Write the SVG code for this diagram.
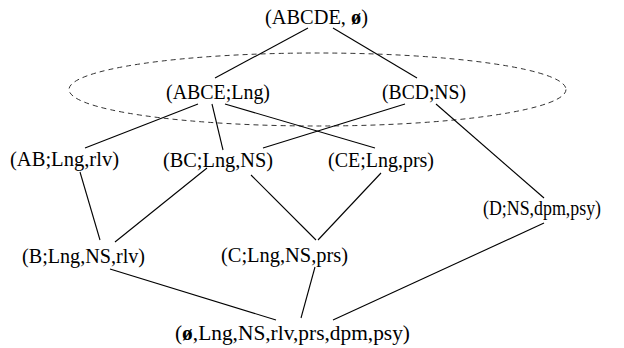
<svg xmlns="http://www.w3.org/2000/svg" width="624" height="348" viewBox="0 0 624 348">
<style>
.c line{stroke:#000;stroke-width:1.1}
</style>
<rect width="624" height="348" fill="#fff"/>
<ellipse cx="317.5" cy="89.5" rx="248.5" ry="36.5" fill="none" stroke="#333" stroke-width="1" stroke-dasharray="5,4"/>
<g class="c" id="connectors">
<line x1="308" y1="28" x2="215" y2="78"/>
<line x1="333" y1="28" x2="417" y2="78"/>
<line x1="198" y1="104" x2="85" y2="148"/>
<line x1="212" y1="104" x2="223" y2="150"/>
<line x1="225" y1="104" x2="375" y2="148"/>
<line x1="405" y1="104" x2="263" y2="148"/>
<line x1="436" y1="104" x2="544" y2="198"/>
<line x1="80" y1="172" x2="100" y2="240"/>
<line x1="207" y1="168" x2="115" y2="242"/>
<line x1="251" y1="175" x2="316" y2="240"/>
<line x1="381" y1="173" x2="318" y2="240"/>
<line x1="544" y1="223" x2="333" y2="320"/>
<line x1="110" y1="269" x2="276" y2="320"/>
<line x1="315" y1="267" x2="301" y2="318"/>
</g>
<g font-family="Liberation Serif, Times New Roman, serif" font-size="20" fill="#000" text-anchor="middle">
<g id="top"><text x="316.5" y="24" textLength="103" lengthAdjust="spacingAndGlyphs">(ABCDE, <tspan font-weight="bold">ø</tspan>)</text></g>
<g id="abce"><text x="218" y="99" textLength="104" lengthAdjust="spacingAndGlyphs">(ABCE;Lng)</text></g>
<g id="bcd"><text x="424" y="99" textLength="84" lengthAdjust="spacingAndGlyphs">(BCD;NS)</text></g>
<g id="ab"><text x="64.5" y="166" textLength="109" lengthAdjust="spacingAndGlyphs">(AB;Lng,rlv)</text></g>
<g id="bc"><text x="218" y="167" textLength="110" lengthAdjust="spacingAndGlyphs">(BC;Lng,NS)</text></g>
<g id="ce"><text x="381" y="167" textLength="106" lengthAdjust="spacingAndGlyphs">(CE;Lng,prs)</text></g>
<g id="d"><text x="542" y="215" textLength="118" lengthAdjust="spacingAndGlyphs">(D;NS,dpm,psy)</text></g>
<g id="b"><text x="83.5" y="263" textLength="123" lengthAdjust="spacingAndGlyphs">(B;Lng,NS,rlv)</text></g>
<g id="cc"><text x="284.5" y="262" textLength="127" lengthAdjust="spacingAndGlyphs">(C;Lng,NS,prs)</text></g>
<g id="bottom"><text x="292.5" y="340" textLength="235" lengthAdjust="spacingAndGlyphs">(<tspan font-weight="bold">ø</tspan>,Lng,NS,rlv,prs,dpm,psy)</text></g>
</g>
</svg>
